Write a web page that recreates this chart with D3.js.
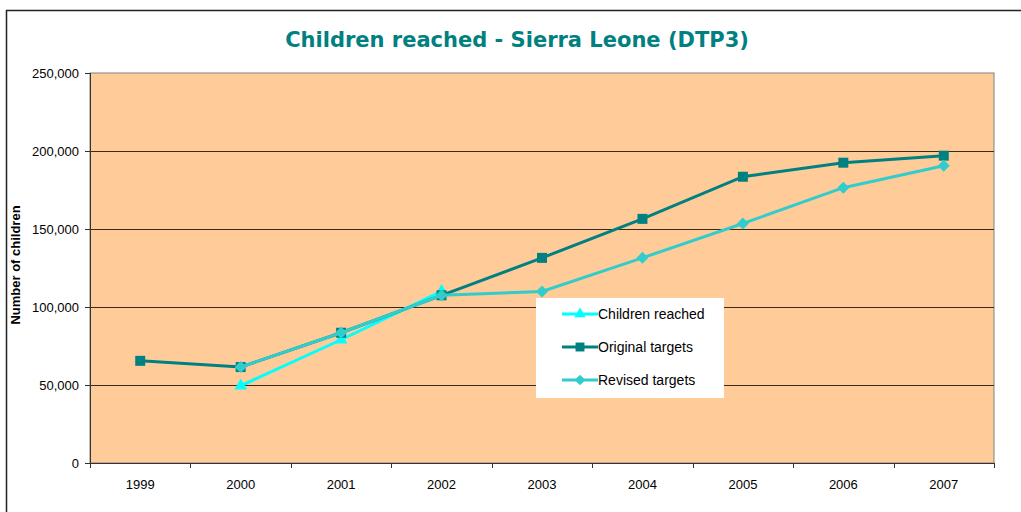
<!DOCTYPE html>
<meta charset="utf-8">
<style>
	body { margin: 0; padding: 0; background: #fff; font-family: Arial, 'Liberation Sans', sans-serif; }
	.axis text { fill: #000; font-size: 13px; font-family: Arial, 'Liberation Sans', sans-serif; }
	.axis path, .axis line { stroke: #333; shape-rendering: crispEdges; }
	.grid line { stroke: #3a2a1a; stroke-width: 1px; shape-rendering: crispEdges; }
	.line { fill: none; stroke-width: 3px; }
</style>
<body>
<svg class="chart"></svg>
<script src="https://d3js.org/d3.v7.min.js"></script>
<script>

var years = ["1999", "2000", "2001", "2002", "2003", "2004", "2005", "2006", "2007"];
var reached = [null, 49500, 79000, 110000, null, null, null, null, null];
var original = [65500, 61500, 83500, 107500, 131500, 156500, 183500, 192500, 197000];
var revised = [null, 61500, 83500, 107500, 110000, 131500, 153500, 176500, 190500];
var yTicks = [0, 50000, 100000, 150000, 200000, 250000];

var margin = {top: 73, left: 90};
var width = 904, height = 390;

var svg = d3.select(".chart")
    .attr("width", 1021)
    .attr("height", 512);

// outer chart frame
svg.append("rect")
    .attr("x", 6.5).attr("y", 10.5)
    .attr("width", 1030).attr("height", 520)
    .attr("fill", "#fff")
    .attr("stroke", "#222")
    .attr("stroke-width", 1.5);

svg.append("text")
    .attr("x", 517).attr("y", 47)
    .attr("text-anchor", "middle")
    .attr("fill", "#008080")
    .style("font-family", "Verdana, 'DejaVu Sans', sans-serif")
    .style("font-weight", "bold")
    .style("font-size", "21px")
    .text("Children reached - Sierra Leone (DTP3)");

var g = svg.append("g")
    .attr("transform", "translate(" + margin.left + "," + margin.top + ")");

var x = d3.scaleBand().domain(years).range([0, width]);
var y = d3.scaleLinear().domain([0, 250000]).range([height, 0]);

g.append("rect")
    .attr("width", width).attr("height", height)
    .attr("fill", "#FFCC99")
    .attr("stroke", "#808080");

g.append("g").attr("class", "grid")
  .selectAll("line")
    .data(yTicks.slice(1, -1))
  .enter().append("line")
    .attr("x1", 0).attr("x2", width)
    .attr("y1", function(d) { return Math.round(y(d)) + 0.5; })
    .attr("y2", function(d) { return Math.round(y(d)) + 0.5; });

g.append("g")
    .attr("class", "axis")
    .call(d3.axisLeft(y).tickValues(yTicks).tickFormat(d3.format(",")).tickSizeOuter(0).tickSize(5).tickPadding(6));

var xAxis = g.append("g")
    .attr("class", "axis")
    .attr("transform", "translate(0," + height + ")")
    .call(d3.axisBottom(x).tickSize(0).tickPadding(17));
xAxis.selectAll(".tick line").remove();
xAxis.selectAll(".sep")
    .data(years.concat(["end"]))
  .enter().append("line")
    .attr("stroke", "#333")
    .attr("x1", function(d, i) { return i * x.bandwidth() + 0.5; })
    .attr("x2", function(d, i) { return i * x.bandwidth() + 0.5; })
    .attr("y1", 0).attr("y2", 5);

g.append("text")
    .attr("transform", "translate(-70," + (height / 2 - 3) + ") rotate(-90)")
    .attr("text-anchor", "middle")
    .style("font-size", "13px")
    .style("font-weight", "bold")
    .text("Number of children");

// diamond = square turned 45 degrees
var series = [
    {name: "Children reached", values: reached, color: "#00FFFF", shape: d3.symbolTriangle, size: 70, rot: 0},
    {name: "Original targets", values: original, color: "#008080", shape: d3.symbolSquare, size: 100, rot: 0},
    {name: "Revised targets", values: revised, color: "#33CCCC", shape: d3.symbolSquare, size: 72, rot: 45}
];

var line = d3.line()
    .defined(function(d) { return d.v !== null; })
    .x(function(d) { return x(d.year) + x.bandwidth() / 2; })
    .y(function(d) { return y(d.v); });

series.forEach(function(s) {
    var pts = years.map(function(yr, i) { return {year: yr, v: s.values[i]}; });
    g.append("path")
        .datum(pts)
        .attr("class", "line")
        .attr("stroke", s.color)
        .attr("d", line);
    g.selectAll(null)
        .data(pts.filter(function(d) { return d.v !== null; }))
      .enter().append("path")
        .attr("fill", s.color)
        .attr("transform", function(d) { return "translate(" + (x(d.year) + x.bandwidth() / 2) + "," + y(d.v) + ") rotate(" + s.rot + ")"; })
        .attr("d", d3.symbol().type(s.shape).size(s.size));
});

// legend
var lg = svg.append("g").attr("transform", "translate(536,298)");
lg.append("rect").attr("width", 188).attr("height", 100).attr("fill", "#fff");
series.forEach(function(s, i) {
    var yy = 16 + i * 33;
    lg.append("line")
        .attr("x1", 26).attr("x2", 62)
        .attr("y1", yy).attr("y2", yy)
        .attr("stroke", s.color).attr("stroke-width", 3);
    lg.append("path")
        .attr("fill", s.color)
        .attr("transform", "translate(44," + yy + ") rotate(" + s.rot + ")")
        .attr("d", d3.symbol().type(s.shape).size(s.size * 0.8));
    lg.append("text")
        .attr("x", 62).attr("y", yy + 5)
        .style("font-size", "14px")
        .text(s.name);
});

</script>
</body>
